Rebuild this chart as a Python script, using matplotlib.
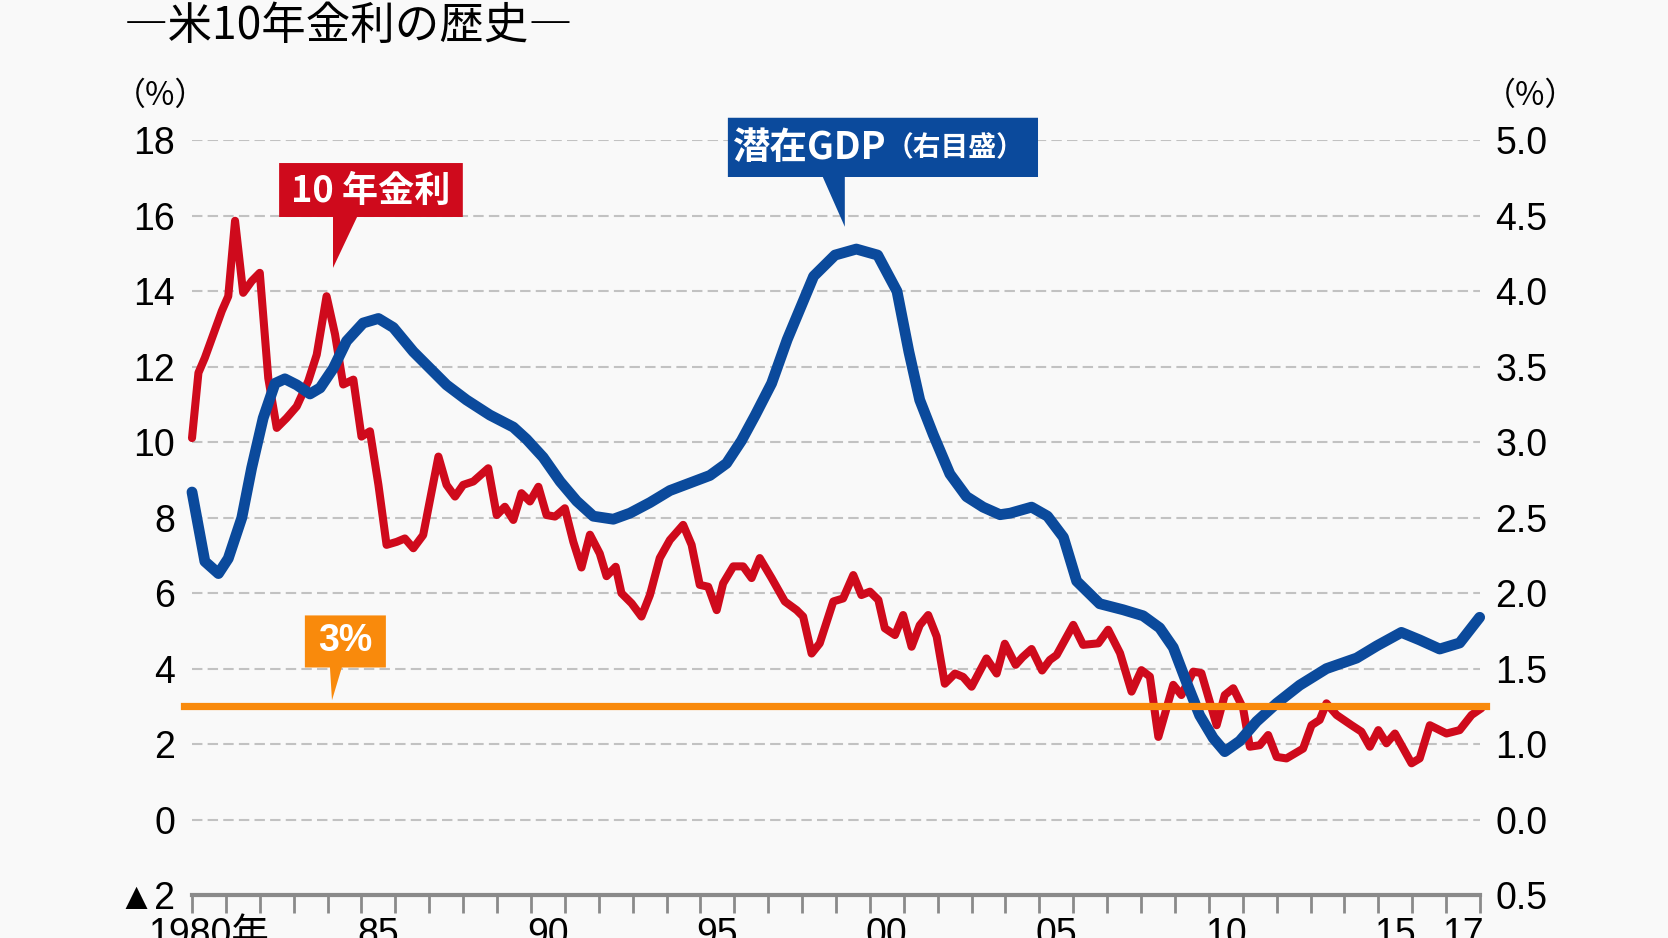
import numpy as np
import matplotlib
matplotlib.use("Agg")
import matplotlib.pyplot as plt
from matplotlib.patches import Polygon
from matplotlib.transforms import Affine2D

# ── Data ─────────────────────────────────────────────────────────────────────
rate_years = [
    1980.0, 1980.19, 1980.38, 1980.63, 1980.88, 1981.07, 1981.27, 1981.51, 1981.76, 1982.0,
    1982.25, 1982.5, 1982.79, 1983.09, 1983.43, 1983.68, 1983.97, 1984.22, 1984.46, 1984.76,
    1985.0, 1985.25, 1985.5, 1985.74, 1986.04, 1986.28, 1986.53, 1986.82, 1987.27, 1987.51,
    1987.76, 1988.0, 1988.3, 1988.74, 1988.99, 1989.23, 1989.48, 1989.72, 1989.97, 1990.22,
    1990.46, 1990.71, 1991.0, 1991.25, 1991.49, 1991.74, 1992.03, 1992.23, 1992.5, 1992.67,
    1992.97, 1993.26, 1993.51, 1993.8, 1994.1, 1994.49, 1994.74, 1994.98, 1995.23, 1995.48,
    1995.67, 1995.97, 1996.26, 1996.51, 1996.75, 1997.1, 1997.49, 1997.84, 1998.03, 1998.28,
    1998.52, 1998.92, 1999.21, 1999.51, 1999.75, 2000.0, 2000.25, 2000.44, 2000.74, 2000.98,
    2001.23, 2001.47, 2001.72, 2001.97, 2002.21, 2002.51, 2002.75, 2003.0, 2003.44, 2003.74,
    2003.98, 2004.3, 2004.5, 2004.77, 2005.08, 2005.31, 2005.51, 2006.0, 2006.29, 2006.74,
    2007.03, 2007.38, 2007.72, 2008.01, 2008.26, 2008.51, 2008.95, 2009.19, 2009.54, 2009.78,
    2010.23, 2010.47, 2010.72, 2011.01, 2011.21, 2011.5, 2011.75, 2012.0, 2012.29, 2012.78,
    2013.03, 2013.27, 2013.47, 2013.77, 2014.21, 2014.5, 2014.75, 2015.0, 2015.24, 2015.49,
    2015.98, 2016.22, 2016.52, 2017.01, 2017.4, 2017.75, 2018.04,
]
rate_10y = [
    10.11, 11.84, 12.24, 12.86, 13.48, 13.87, 15.87, 13.96, 14.27, 14.49,
    11.70, 10.38, 10.64, 10.95, 11.62, 12.32, 13.87, 12.86, 11.53, 11.66,
    10.15, 10.29, 8.87, 7.28, 7.36, 7.45, 7.19, 7.54, 9.62, 8.87,
    8.56, 8.87, 8.96, 9.31, 8.07, 8.29, 7.94, 8.65, 8.43, 8.82,
    8.07, 8.03, 8.25, 7.36, 6.68, 7.55, 7.05, 6.45, 6.70, 6.00,
    5.73, 5.38, 5.95, 6.93, 7.41, 7.81, 7.28, 6.22, 6.17, 5.55,
    6.26, 6.71, 6.71, 6.40, 6.93, 6.40, 5.78, 5.55, 5.38, 4.40,
    4.67, 5.78, 5.86, 6.48, 5.95, 6.04, 5.82, 5.07, 4.89, 5.42,
    4.58, 5.15, 5.42, 4.85, 3.60, 3.87, 3.78, 3.52, 4.27, 3.87,
    4.66, 4.10, 4.30, 4.52, 3.95, 4.23, 4.36, 5.16, 4.63, 4.67,
    5.03, 4.41, 3.39, 3.96, 3.79, 2.19, 3.57, 3.30, 3.92, 3.88,
    2.50, 3.30, 3.48, 2.95, 1.93, 1.97, 2.24, 1.66, 1.62, 1.88,
    2.50, 2.64, 3.08, 2.77, 2.50, 2.33, 1.93, 2.37, 2.02, 2.28,
    1.49, 1.62, 2.50, 2.28, 2.37, 2.77, 2.95,
]

gdp_years = [
    1980.0, 1980.38, 1980.78, 1981.07, 1981.47, 1981.76, 1982.1, 1982.45, 1982.74, 1983.09,
    1983.48, 1983.78, 1984.17, 1984.56, 1985.05, 1985.5, 1985.94, 1986.53, 1987.02, 1987.51,
    1988.1, 1988.79, 1989.48, 1989.87, 1990.36, 1990.86, 1991.35, 1991.84, 1992.43, 1992.92,
    1993.51, 1994.1, 1994.69, 1995.28, 1995.77, 1996.21, 1996.62, 1997.1, 1997.56, 1997.95,
    1998.34, 1998.97, 1999.6, 2000.23, 2000.8, 2001.15, 2001.47, 2001.87, 2002.36, 2002.85,
    2003.34, 2003.84, 2004.14, 2004.77, 2005.24, 2005.71, 2006.1, 2006.78, 2007.47, 2008.06,
    2008.55, 2008.95, 2009.34, 2009.73, 2010.13, 2010.47, 2010.91, 2011.41, 2012.0, 2012.68,
    2013.47, 2014.36, 2014.95, 2015.68, 2016.22, 2016.81, 2017.4, 2017.99,
]
gdp_potential = [  # right-hand scale, %
    2.67, 2.21, 2.13, 2.23, 2.50, 2.83, 3.16, 3.39, 3.42, 3.38,
    3.32, 3.36, 3.49, 3.67, 3.79, 3.82, 3.76, 3.60, 3.49, 3.38,
    3.28, 3.18, 3.10, 3.02, 2.90, 2.74, 2.61, 2.51, 2.49, 2.53,
    2.60, 2.68, 2.73, 2.78, 2.86, 3.01, 3.18, 3.39, 3.68, 3.89,
    4.10, 4.24, 4.28, 4.24, 4.00, 3.60, 3.28, 3.05, 2.79, 2.64,
    2.57, 2.52, 2.53, 2.57, 2.51, 2.37, 2.08, 1.93, 1.89, 1.85,
    1.77, 1.64, 1.41, 1.19, 1.04, 0.95, 1.02, 1.15, 1.27, 1.39,
    1.50, 1.57, 1.65, 1.74, 1.69, 1.63, 1.67, 1.84,
]

THRESHOLD = 3.0

left_ticks = [-2, 0, 2, 4, 6, 8, 10, 12, 14, 16, 18]
left_labels = ["▲2", "0", "2", "4", "6", "8", "10", "12", "14", "16", "18"]
right_ticks = [0.0, 0.5, 1.0, 1.5, 2.0, 2.5, 3.0, 3.5, 4.0, 4.5, 5.0]
right_labels = ["0.5", "0.0", "1.0", "1.5", "2.0", "2.5", "3.0", "3.5", "4.0", "4.5", "5.0"]
year_label_pos = [1980, 1985, 1990, 1995, 2000, 2005, 2010, 2015, 2017]
year_labels = ["1980年", "85", "90", "95", "00", "05", "10", "15", "17"]

# ── Style ────────────────────────────────────────────────────────────────────
RED    = "#cf0a1c"
BLUE   = "#0b4a9c"
ORANGE = "#f98a0c"
GRID   = "#c2c2c2"
AXIS   = "#8a8a8a"
BG     = "#f9f9f9"
JP     = ["Noto Sans CJK JP", "DejaVu Sans"]

plt.rcParams["font.family"] = ["Liberation Sans", "Noto Sans CJK JP", "DejaVu Sans"]

W, H = 1668, 938
fig = plt.figure(figsize=(W / 100, H / 100), dpi=100, facecolor=BG)
ax = fig.add_axes([192 / W, 43 / H, 1288 / W, 754.6 / H])
ax.set_facecolor(BG)

ax.set_xlim(1980, 2018)
ax.set_ylim(-2, 18)

# ── Axes cosmetics ───────────────────────────────────────────────────────────
for side in ("left", "right", "top"):
    ax.spines[side].set_visible(False)
ax.spines["bottom"].set_color(AXIS)
ax.spines["bottom"].set_linewidth(3)
ax.spines["bottom"].set_zorder(5)

ax.set_yticks(left_ticks)
ax.set_yticklabels(left_labels)
ax.tick_params(axis="y", length=0, pad=12, labelsize=27)
ax.yaxis.grid(True, color=GRID, linewidth=1.5, linestyle=(0, (5, 2.5)))
ax.set_axisbelow(True)

ax.set_xticks(np.arange(1980, 2019))
ax.set_xticklabels([])
ax.tick_params(axis="x", which="major", direction="out", length=13, width=2, color=AXIS)
ax.set_xticks([y + 0.5 for y in year_label_pos], minor=True)
ax.set_xticklabels(year_labels, minor=True)
ax.tick_params(axis="x", which="minor", length=0, pad=16, labelsize=27)

# right-hand scale: left = 4 * right - 2
sec = ax.secondary_yaxis("right", functions=(lambda v: (v + 2) / 4, lambda v: 4 * v - 2))
sec.spines["right"].set_visible(False)
sec.set_yticks(right_ticks)
sec.set_yticklabels(right_labels)
sec.tick_params(length=0, pad=11, labelsize=27)

# ── Lines ────────────────────────────────────────────────────────────────────
ax.plot(rate_years, rate_10y, color=RED, linewidth=5.8, solid_joinstyle="round",
        solid_capstyle="round", zorder=3, clip_on=False)

gdp_trans = Affine2D().scale(1, 4).translate(0, -2) + ax.transData
ax.plot(gdp_years, gdp_potential, color=BLUE, linewidth=7.8, solid_joinstyle="round",
        solid_capstyle="round", zorder=4, clip_on=False, transform=gdp_trans)

ax.axhline(THRESHOLD, xmin=-0.006, xmax=1.005, color=ORANGE, linewidth=5.2,
           zorder=4.5, clip_on=False)

# ── Call-outs ────────────────────────────────────────────────────────────────
def callout(x0, x1, y0, y1, b0, b1, tip, color):
    verts = [(x0, y0), (b0, y0), tip, (b1, y0), (x1, y0), (x1, y1), (x0, y1)]
    ax.add_patch(Polygon(verts, closed=True, facecolor=color, edgecolor="none",
                         zorder=6, clip_on=False))

callout(1982.57, 1987.99, 15.97, 17.40, 1984.16, 1984.87, (1984.16, 14.62), RED)
ax.text(1985.28, 16.66, "10 年金利", color="white", fontsize=26, fontweight="bold",
        family=JP, ha="center", va="center", zorder=7)

callout(1995.81, 2004.96, 17.03, 18.60, 1998.61, 1999.26, (1999.26, 15.71), BLUE)
ax.text(2000.5, 17.80, "潜在GDP", color="white", fontsize=27, fontweight="bold",
        family=JP, ha="right", va="center", zorder=7, clip_on=False)
ax.text(2000.45, 17.78, "（右目盛）", color="white", fontsize=20, fontweight="bold",
        family=JP, ha="left", va="center", zorder=7, clip_on=False)

callout(1983.33, 1985.72, 4.03, 5.41, 1984.07, 1984.42, (1984.13, 3.16), ORANGE)
ax.text(1984.52, 4.72, "3%", color="white", fontsize=27, fontweight="bold",
        ha="center", va="center", zorder=7)

# ── Titles ───────────────────────────────────────────────────────────────────
fig.text(124 / W, 1 - 26 / H, "―米10年金利の歴史―", fontsize=32, family=JP,
         ha="left", va="center")
fig.text(114 / W, 1 - 96 / H, "（%）", fontsize=23, family=JP, ha="left", va="center")
fig.text(1484 / W, 1 - 96 / H, "（%）", fontsize=23, family=JP, ha="left", va="center")

fig.savefig("out.png", dpi=100, facecolor=BG)
